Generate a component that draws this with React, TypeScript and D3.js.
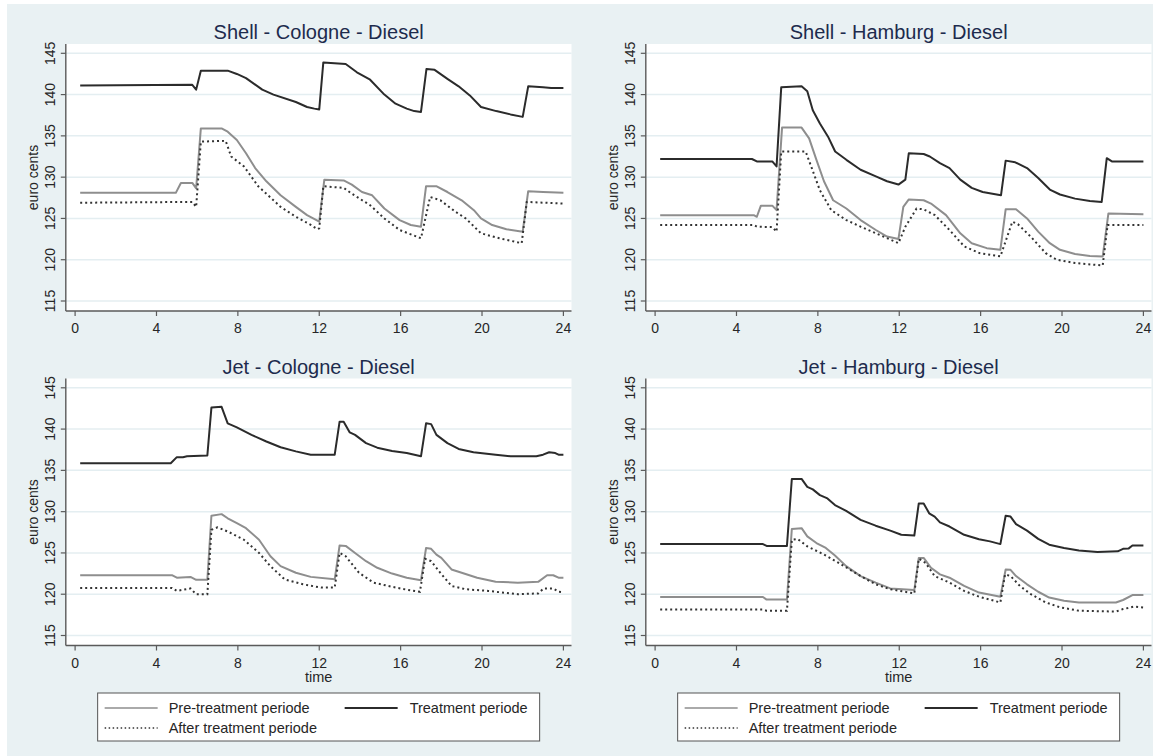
import React from "react";
import * as d3 from "d3";

type Pt = [number, number];

// Hourly price profiles (time of day, euro cents)
const shellColognePre: Pt[] = [[0.25,128.1],[4.95,128.1],[5.2,129.3],[5.76,129.3],[5.95,128.65],[6.18,135.9],[7.2,135.9],[7.5,135.5],[7.95,134.5],[8.4,132.9],[8.85,131.1],[9.4,129.5],[10.1,127.8],[10.85,126.4],[11.4,125.4],[12.0,124.6],[12.25,129.7],[13.2,129.6],[13.6,129.1],[14.1,128.2],[14.6,127.8],[15.2,126.2],[15.95,124.8],[16.5,124.2],[17.0,124.0],[17.25,128.9],[17.75,128.9],[18.3,128.2],[19.0,127.2],[19.6,126.0],[19.95,125.0],[20.5,124.2],[21.2,123.7],[22.0,123.4],[22.27,128.3],[23.0,128.2],[24.0,128.1]];
const shellCologneTreatment: Pt[] = [[0.25,141.1],[5.75,141.2],[5.95,140.6],[6.18,142.9],[7.5,142.9],[7.95,142.5],[8.4,142.0],[9.2,140.6],[9.75,140.0],[10.85,139.1],[11.4,138.5],[11.76,138.3],[12.0,138.2],[12.2,143.9],[13.3,143.7],[13.85,142.7],[14.5,141.8],[15.2,140.0],[15.75,138.9],[16.3,138.3],[16.67,138.0],[17.0,137.9],[17.27,143.1],[17.67,143.0],[18.3,141.9],[18.85,141.0],[19.4,139.9],[19.95,138.5],[20.7,138.0],[21.4,137.6],[22.0,137.3],[22.27,141.0],[23.0,140.9],[23.4,140.8],[24.0,140.8]];
const shellCologneAfter: Pt[] = [[0.25,126.9],[5.76,127.0],[5.95,126.4],[6.18,134.3],[7.4,134.4],[7.67,132.5],[8.3,131.3],[9.0,128.9],[10.1,126.4],[10.85,125.2],[11.6,124.2],[11.9,123.7],[12.0,123.8],[12.2,128.9],[13.2,128.7],[13.6,128.0],[14.5,126.6],[15.2,125.0],[15.95,123.6],[17.0,122.6],[17.45,127.6],[17.95,127.2],[18.7,125.8],[19.2,125.0],[19.95,123.2],[20.85,122.6],[21.95,122.0],[22.2,127.0],[24.0,126.8]];

const shellHamburgPre: Pt[] = [[0.25,125.4],[4.85,125.4],[5.0,125.2],[5.2,126.55],[5.76,126.55],[5.97,126.0],[6.24,136.0],[7.2,136.0],[7.57,134.7],[7.93,132.1],[8.3,129.5],[8.75,127.2],[9.4,126.2],[10.1,124.8],[10.85,123.6],[11.4,122.8],[11.96,122.5],[12.2,126.4],[12.47,127.3],[13.2,127.2],[13.56,126.8],[14.3,125.4],[15.0,123.2],[15.56,122.0],[16.3,121.4],[16.97,121.2],[17.23,126.1],[17.74,126.1],[18.28,125.0],[18.83,123.4],[19.4,122.0],[19.9,121.2],[20.64,120.7],[21.37,120.45],[22.0,120.4],[22.28,125.6],[24.0,125.5]];
const shellHamburgTreatment: Pt[] = [[0.25,132.2],[4.76,132.2],[5.0,131.9],[5.76,131.9],[5.97,131.3],[6.2,140.9],[7.2,141.0],[7.48,140.4],[7.75,138.1],[8.1,136.5],[8.5,134.9],[8.85,133.1],[9.4,132.1],[10.1,130.9],[10.85,130.1],[11.4,129.5],[11.96,129.1],[12.3,129.7],[12.47,132.9],[13.2,132.8],[13.5,132.5],[14.0,131.7],[14.47,131.1],[15.0,129.7],[15.56,128.7],[16.1,128.2],[16.65,127.96],[17.0,127.8],[17.23,132.0],[17.7,131.8],[18.28,131.1],[18.83,129.9],[19.4,128.5],[19.9,127.9],[20.64,127.4],[21.37,127.1],[21.95,127.0],[22.2,132.3],[22.45,131.9],[24.0,131.9]];
const shellHamburgAfter: Pt[] = [[0.25,124.2],[4.85,124.2],[5.0,124.0],[5.76,123.95],[5.97,123.4],[6.2,133.1],[7.4,133.1],[7.67,131.3],[8.1,128.4],[8.66,126.0],[9.4,124.8],[10.1,124.0],[10.85,123.2],[11.6,122.4],[11.96,122.0],[12.3,124.0],[12.85,126.2],[13.2,126.1],[13.75,125.4],[14.47,123.6],[15.2,121.6],[15.95,120.8],[16.97,120.4],[17.56,124.6],[17.83,124.3],[18.46,122.8],[19.2,120.8],[19.73,120.0],[20.64,119.6],[22.0,119.3],[22.24,124.2],[24.0,124.2]];

const jetColognePre: Pt[] = [[0.25,122.3],[4.76,122.3],[5.0,122.0],[5.67,122.1],[5.95,121.75],[6.5,121.75],[6.7,129.5],[7.2,129.7],[7.5,129.2],[7.95,128.6],[8.4,128.0],[9.04,126.6],[9.6,124.6],[10.1,123.4],[10.85,122.6],[11.58,122.1],[12.76,121.8],[13.0,125.9],[13.3,125.85],[13.76,125.0],[14.3,124.0],[14.85,123.2],[15.58,122.5],[16.3,122.0],[17.0,121.7],[17.25,125.6],[17.5,125.5],[17.76,124.8],[18.0,124.4],[18.5,123.0],[19.0,122.6],[19.76,122.0],[20.67,121.5],[21.76,121.4],[22.76,121.5],[23.2,122.3],[23.5,122.3],[23.76,122.0],[24.0,122.0]];
const jetCologneTreatment: Pt[] = [[0.25,135.86],[4.7,135.86],[5.0,136.6],[5.3,136.6],[5.5,136.7],[6.5,136.8],[6.7,142.6],[7.2,142.7],[7.5,140.7],[7.95,140.2],[8.67,139.3],[9.4,138.5],[10.1,137.8],[10.85,137.3],[11.58,136.9],[12.76,136.9],[13.0,140.9],[13.2,140.9],[13.5,139.6],[13.76,139.3],[14.3,138.3],[14.85,137.75],[15.58,137.35],[16.3,137.1],[17.0,136.7],[17.25,140.7],[17.5,140.6],[17.76,139.3],[18.3,138.3],[18.85,137.6],[19.58,137.2],[20.67,136.9],[21.4,136.7],[22.67,136.7],[23.0,136.9],[23.3,137.2],[23.6,137.1],[23.76,136.9],[24.0,136.9]];
const jetCologneAfter: Pt[] = [[0.25,120.75],[4.76,120.75],[5.0,120.4],[5.67,120.7],[5.95,120.0],[6.5,120.0],[6.7,127.8],[7.0,128.1],[7.5,127.6],[8.3,126.6],[9.04,125.0],[9.6,123.4],[10.3,121.8],[11.2,121.2],[12.1,120.8],[12.76,120.8],[13.0,125.0],[13.3,124.6],[13.95,122.6],[14.67,121.4],[15.58,120.9],[16.3,120.55],[16.95,120.3],[17.2,124.3],[17.5,124.0],[17.95,122.6],[18.5,121.0],[19.2,120.6],[20.3,120.4],[21.76,120.0],[22.76,120.1],[23.03,120.7],[23.5,120.7],[23.76,120.3],[24.0,120.25]];

const jetHamburgPre: Pt[] = [[0.25,119.67],[5.3,119.67],[5.48,119.35],[6.48,119.35],[6.72,127.9],[7.2,128.0],[7.48,127.0],[7.93,126.2],[8.39,125.6],[8.84,124.7],[9.39,123.4],[10.1,122.2],[10.84,121.4],[11.56,120.7],[12.74,120.5],[12.96,124.4],[13.2,124.4],[13.56,123.2],[14.0,122.4],[14.47,122.0],[15.19,121.0],[15.92,120.2],[16.97,119.7],[17.23,123.0],[17.47,122.95],[17.74,122.2],[18.28,121.2],[18.83,120.3],[19.37,119.6],[20.1,119.2],[20.83,119.0],[22.65,119.0],[23.0,119.3],[23.46,119.9],[24.0,119.9]];
const jetHamburgTreatment: Pt[] = [[0.25,126.07],[5.3,126.07],[5.48,125.85],[6.48,125.85],[6.72,133.96],[7.2,133.96],[7.48,133.0],[7.75,132.7],[8.1,132.0],[8.47,131.6],[8.84,130.8],[9.39,130.1],[10.1,129.0],[10.84,128.3],[11.56,127.7],[12.1,127.2],[12.74,127.1],[12.96,131.0],[13.2,131.0],[13.47,129.8],[13.74,129.4],[14.0,128.7],[14.47,128.2],[15.19,127.2],[15.92,126.65],[16.46,126.4],[16.97,126.07],[17.23,129.5],[17.47,129.4],[17.74,128.5],[18.28,127.7],[18.83,126.7],[19.37,126.0],[20.1,125.6],[20.83,125.3],[21.74,125.1],[22.74,125.2],[23.0,125.5],[23.28,125.55],[23.46,125.9],[24.0,125.9]];
const jetHamburgAfter: Pt[] = [[0.25,118.14],[5.3,118.14],[5.48,118.0],[6.48,118.0],[6.72,126.6],[7.0,126.7],[7.48,125.8],[8.3,124.8],[9.02,123.8],[10.1,122.2],[10.84,121.2],[11.56,120.6],[12.74,120.1],[12.96,124.3],[13.29,123.8],[13.74,122.2],[14.47,121.4],[15.19,120.4],[15.92,119.7],[16.97,119.0],[17.2,122.4],[17.47,122.2],[17.93,121.0],[18.47,120.0],[19.2,119.0],[19.92,118.4],[20.83,118.0],[22.65,117.9],[23.0,118.2],[23.55,118.5],[24.0,118.4]];

const panelTitles = ["Shell - Cologne - Diesel", "Shell - Hamburg - Diesel", "Jet - Cologne - Diesel", "Jet - Hamburg - Diesel"];
const xTicks = [0, 4, 8, 12, 16, 20, 24];
const yTicks = [115, 120, 125, 130, 135, 140, 145];
const legendLabels = ["Pre-treatment periode", "Treatment periode", "After treatment periode"];
const yTitle = "euro cents";
const xTitle = "time";

const panelSeries = [
  { pre: shellColognePre, treat: shellCologneTreatment, after: shellCologneAfter },
  { pre: shellHamburgPre, treat: shellHamburgTreatment, after: shellHamburgAfter },
  { pre: jetColognePre, treat: jetCologneTreatment, after: jetCologneAfter },
  { pre: jetHamburgPre, treat: jetHamburgTreatment, after: jetHamburgAfter },
];

const FONT = "'Liberation Sans', Arial, Helvetica, sans-serif";
const BG = "#e9f1f3";
const PRE_COLOR = "#8e8e8e";
const TREAT_COLOR = "#2b2b2b";
const AFTER_COLOR = "#333333";
const AXIS_COLOR = "#5a5a5a";
const TEXT_COLOR = "#262626";

const COL_OFFSET = 580;
const ROW_OFFSET = 334.5;

function Panel({ index }: { index: number }) {
  const col = index % 2;
  const row = Math.floor(index / 2);
  const ox = col * COL_OFFSET;
  const oy = row * ROW_OFFSET;
  const plotLeft = 65.8;
  const plotRight = 571.5;
  const plotTop = 44;
  const plotBottom = 311;

  const x = d3.scaleLinear().domain([0, 24]).range([75.1, 563.4]);
  const y = d3.scaleLinear().domain([115, 145]).range([301, 53.3]);
  const line = d3.line<Pt>().x((d) => x(d[0])).y((d) => y(d[1]));
  const s = panelSeries[index];
  const cx = (plotLeft + plotRight) / 2;

  return (
    <g transform={`translate(${ox},${oy})`}>
      <rect x={plotLeft} y={plotTop} width={plotRight - plotLeft} height={plotBottom - plotTop} fill="#ffffff" />
      {yTicks.map((t) => (
        <line key={`g${t}`} x1={plotLeft} x2={plotRight} y1={y(t)} y2={y(t)} stroke="#e4eef1" strokeWidth={1.5} />
      ))}
      <text x={cx} y={39} textAnchor="middle" fontFamily={FONT} fontSize={20} fill="#1d2b4d">
        {panelTitles[index]}
      </text>
      {/* axes */}
      <line x1={plotLeft} x2={plotLeft} y1={plotTop} y2={plotBottom} stroke={AXIS_COLOR} strokeWidth={1.4} />
      <line x1={plotLeft} x2={plotRight} y1={plotBottom} y2={plotBottom} stroke={AXIS_COLOR} strokeWidth={1.4} />
      {yTicks.map((t) => (
        <g key={`y${t}`}>
          <line x1={plotLeft - 5} x2={plotLeft} y1={y(t)} y2={y(t)} stroke={AXIS_COLOR} strokeWidth={1.2} />
          <text
            transform={`translate(${55},${y(t)}) rotate(-90)`}
            textAnchor="middle"
            fontFamily={FONT}
            fontSize={14}
            fill={TEXT_COLOR}
          >
            {t}
          </text>
        </g>
      ))}
      {xTicks.map((t) => (
        <g key={`x${t}`}>
          <line x1={x(t)} x2={x(t)} y1={plotBottom} y2={plotBottom + 5} stroke={AXIS_COLOR} strokeWidth={1.2} />
          <text x={x(t)} y={333} textAnchor="middle" fontFamily={FONT} fontSize={14} fill={TEXT_COLOR}>
            {t}
          </text>
        </g>
      ))}
      <text
        transform={`translate(${38},${(plotTop + plotBottom) / 2}) rotate(-90)`}
        textAnchor="middle"
        fontFamily={FONT}
        fontSize={14}
        fill={TEXT_COLOR}
      >
        {yTitle}
      </text>
      {/* series */}
      <path d={line(s.pre) || ""} fill="none" stroke={PRE_COLOR} strokeWidth={2} strokeLinejoin="round" />
      <path d={line(s.treat) || ""} fill="none" stroke={TREAT_COLOR} strokeWidth={2} strokeLinejoin="round" />
      <path d={line(s.after) || ""} fill="none" stroke={AFTER_COLOR} strokeWidth={2} strokeDasharray="2,3" />
      {row === 1 && (
        <g>
          <text x={cx} y={682} textAnchor="middle" fontFamily={FONT} fontSize={14.5} fill={TEXT_COLOR} transform={`translate(0,${-oy})`}>
            {xTitle}
          </text>
          <Legend cx={cx} oy={oy} />
        </g>
      )}
    </g>
  );
}

function Legend({ cx, oy }: { cx: number; oy: number }) {
  const w = 442;
  const left = cx - w / 2;
  const top = 693 - oy;
  const r1 = top + 15;
  const r2 = top + 35;
  return (
    <g>
      <rect x={left} y={top} width={w} height={48} fill="#ffffff" stroke="#555" strokeWidth={1} />
      <line x1={left + 7} x2={left + 60} y1={r1} y2={r1} stroke={PRE_COLOR} strokeWidth={1.6} />
      <text x={left + 71} y={r1 + 5} fontFamily={FONT} fontSize={14.5} fill={TEXT_COLOR}>{legendLabels[0]}</text>
      <line x1={left + 247} x2={left + 300} y1={r1} y2={r1} stroke={TREAT_COLOR} strokeWidth={2} />
      <text x={left + 312} y={r1 + 5} fontFamily={FONT} fontSize={14.5} fill={TEXT_COLOR}>{legendLabels[1]}</text>
      <line x1={left + 7} x2={left + 60} y1={r2} y2={r2} stroke={AFTER_COLOR} strokeWidth={1.6} strokeDasharray="1.5,2.5" />
      <text x={left + 71} y={r2 + 5} fontFamily={FONT} fontSize={14.5} fill={TEXT_COLOR}>{legendLabels[2]}</text>
    </g>
  );
}

export default function App() {
  return (
    <svg
      width={1159}
      height={756}
      viewBox="0 0 1159 756"
      style={{ position: "absolute", left: 0, top: 0, background: "#ffffff" }}
    >
      <rect x={7} y={4} width={1146} height={752} fill={BG} />
      {[0, 1, 2, 3].map((i) => (
        <Panel key={i} index={i} />
      ))}
    </svg>
  );
}
